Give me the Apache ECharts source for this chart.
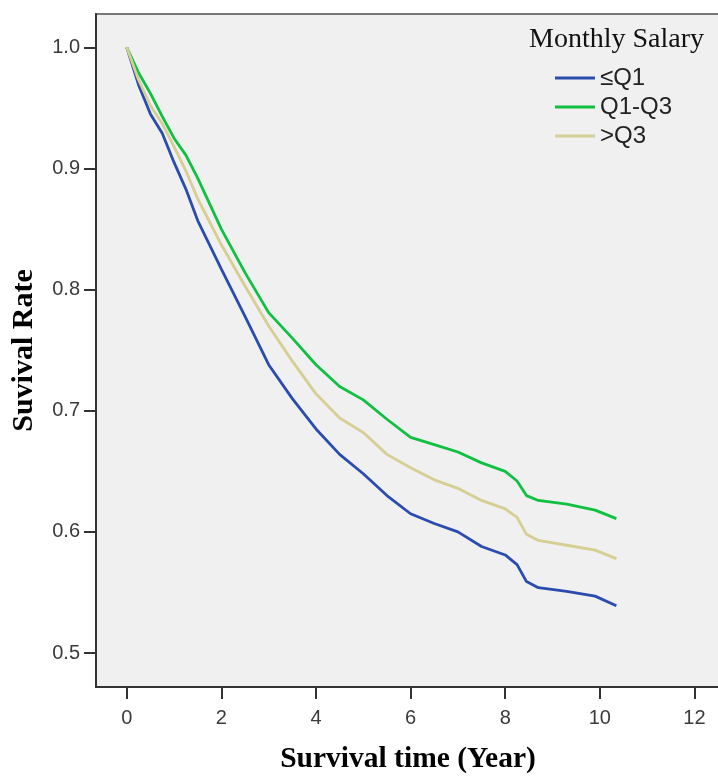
<!DOCTYPE html>
<html>
<head>
<meta charset="utf-8">
<script src="https://cdn.jsdelivr.net/npm/echarts@6/dist/echarts.min.js"></script>
<style>
html,body{margin:0;padding:0;background:#fff;}
#chart{width:718px;height:776px;}
</style>
</head>
<body>
<div id="chart"></div>
<script>
// Survival time (years)
var times = [0, 0.25, 0.5, 0.75, 1.0, 1.25, 1.5, 2.0, 2.5, 3.0, 3.5, 4.0, 4.5, 5.0, 5.5, 6.0, 6.5, 7.0, 7.5, 8.0, 8.25, 8.45, 8.7, 9.3, 9.9, 10.35];
// Survival rate by monthly salary group
var lowSalary  = [1.0, 0.969, 0.945, 0.929, 0.905, 0.883, 0.857, 0.817, 0.778, 0.738, 0.710, 0.685, 0.664, 0.648, 0.630, 0.615, 0.607, 0.600, 0.588, 0.581, 0.573, 0.559, 0.554, 0.551, 0.547, 0.539];
var midSalary  = [1.0, 0.979, 0.962, 0.943, 0.925, 0.911, 0.892, 0.850, 0.814, 0.781, 0.760, 0.738, 0.720, 0.709, 0.693, 0.678, 0.672, 0.666, 0.657, 0.650, 0.642, 0.630, 0.626, 0.623, 0.618, 0.611];
var highSalary = [1.0, 0.973, 0.952, 0.937, 0.918, 0.898, 0.875, 0.837, 0.803, 0.770, 0.741, 0.714, 0.694, 0.682, 0.664, 0.653, 0.643, 0.636, 0.626, 0.619, 0.612, 0.598, 0.593, 0.589, 0.585, 0.578];
var seriesNames = ['\u2264Q1', 'Q1-Q3', '>Q3'];
var xTicks = [0, 2, 4, 6, 8, 10, 12];
var yTicks = [0.5, 0.6, 0.7, 0.8, 0.9, 1.0];

function pairs(arr){ return times.map(function(t,i){ return [t, arr[i]]; }); }

var chart = echarts.init(document.getElementById('chart'));
var axisLabelStyle = {fontFamily:'Liberation Sans', fontSize:20, color:'#3a3a3a'};
chart.setOption({
  animation:false,
  backgroundColor:'#ffffff',
  title:{
    text:'Monthly Salary', right:14, top:26, padding:0,
    textStyle:{fontFamily:'Liberation Serif', fontSize:28, fontWeight:'normal', color:'#111'}
  },
  legend:{
    left:555, top:66, orient:'vertical', padding:0, itemGap:5,
    itemWidth:40, itemHeight:3, icon:'rect',
    textStyle:{fontFamily:'Liberation Sans', fontSize:24, color:'#222'},
    data:seriesNames
  },
  grid:{
    left:96, top:14, width:624, height:673,
    containLabel:false, outerBoundsMode:'none',
    show:true, backgroundColor:'#f0f0f0', borderColor:'#777', borderWidth:2
  },
  xAxis:{
    type:'value', min:-0.65, max:12.54,
    name:'Survival time (Year)', nameLocation:'middle', nameGap:57,
    nameTextStyle:{fontFamily:'Liberation Serif', fontSize:29.5, fontWeight:'bold', color:'#000'},
    axisLine:{show:true, onZero:false, lineStyle:{color:'#333', width:2}},
    axisTick:{show:true, length:12, customValues:xTicks, lineStyle:{color:'#333', width:2}},
    axisLabel:Object.assign({customValues:xTicks, margin:21}, axisLabelStyle),
    splitLine:{show:false}
  },
  yAxis:{
    type:'value', min:0.472, max:1.0275,
    name:'Suvival Rate', nameLocation:'middle', nameGap:57,
    nameTextStyle:{fontFamily:'Liberation Serif', fontSize:30, fontWeight:'bold', color:'#000'},
    axisLine:{show:true, onZero:false, lineStyle:{color:'#333', width:2}},
    axisTick:{show:true, length:12, customValues:yTicks, lineStyle:{color:'#333', width:2}},
    axisLabel:Object.assign({customValues:yTicks, margin:16, formatter:function(v){return v.toFixed(1);}}, axisLabelStyle),
    splitLine:{show:false}
  },
  series:[
    {name:seriesNames[0], type:'line', data:pairs(lowSalary), showSymbol:false, color:'#2a4cae', lineStyle:{width:2.8, color:'#2a4cae'}},
    {name:seriesNames[1], type:'line', data:pairs(midSalary), showSymbol:false, color:'#10c040', lineStyle:{width:2.8, color:'#10c040'}},
    {name:seriesNames[2], type:'line', data:pairs(highSalary), showSymbol:false, color:'#d6ce93', lineStyle:{width:2.8, color:'#d6ce93'}}
  ]
});
</script>
</body>
</html>
